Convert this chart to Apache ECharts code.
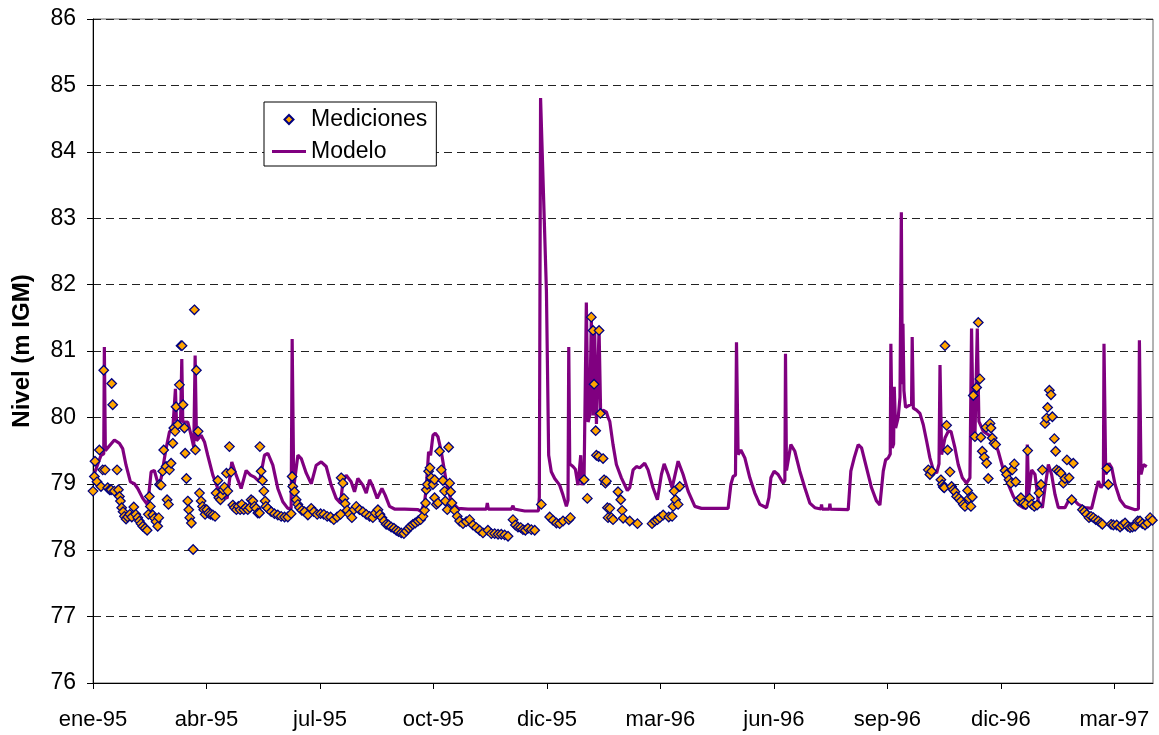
<!DOCTYPE html>
<html>
<head>
<meta charset="utf-8">
<script src="https://cdn.jsdelivr.net/npm/echarts@6/dist/echarts.min.js"></script>
<style>
  html, body { margin: 0; padding: 0; background: #fff; }
  #chart { width: 1159px; height: 735px; }
</style>
</head>
<body>
<div id="chart"></div>
<script>
// Days are counted from 1 January 1995 (day 0); levels are in m IGM.
const DAY0 = Date.UTC(1995, 0, 1);
const MONTHS = ['ene', 'feb', 'mar', 'abr', 'may', 'jun', 'jul', 'ago', 'sep', 'oct', 'nov', 'dic'];
const TICK_STEP_DAYS = 91;
const X_MAX_DAY = 850;
const Y_MIN = 76, Y_MAX = 86;

// Modelo: simulated level
const modelDay = [
  0, 6.45, 8.6, 9.1, 9.9, 17.15, 21.2, 23.8, 26.5, 30.0, 33.2, 35.9, 39.9, 43.9, 46.6, 49.2, 52.5, 54.6, 58.6, 61.3,
  64.0, 65.6, 66.1, 66.9, 70.2, 71.2, 72.0, 76.0, 78.7, 80.8, 81.9, 83.0, 86.7, 89.4, 92.0, 96.1, 100.1, 104.1, 107.6, 111.3,
  114.8, 118.8, 122.8, 126.3, 129.5, 133.5, 137.5, 140.2, 144.2, 148.2, 152.2, 156.2, 158.9, 159.7, 161.0, 164.3, 167.0, 171.0, 175.0, 179.0,
  183.0, 187.0, 191.0, 195.0, 198.5, 200.4, 203.0, 207.0, 209.7, 212.4, 216.4, 219.1, 221.8, 224.4, 227.9, 231.7, 234.3, 237.8, 241.8, 249.9,
  260.6, 263.2, 265.9, 267.2, 269.1, 270.7, 272.6, 274.5, 276.6, 279.3, 283.3, 287.3, 292.7, 300.7, 315.4, 316.2, 317.0, 335.5, 336.8, 337.6,
  346.2, 357.2, 357.9, 358.9, 363.6, 365.4, 367.5, 370.2, 374.2, 376.9, 379.6, 380.9, 381.5, 382.3, 384.9, 386.8, 388.9, 391.1, 392.2, 393.8,
  395.6, 397.0, 398.3, 399.6, 401.0, 402.3, 403.7, 405.8, 407.1, 409.0, 411.7, 413.0, 414.4, 417.0, 419.7, 423.7, 428.5, 430.4, 433.1, 435.8,
  438.4, 442.4, 445.1, 449.1, 452.6, 455.8, 458.0, 461.2, 464.4, 469.2, 473.2, 477.2, 482.6, 487.9, 509.3, 511.5, 513.3, 515.2, 516.0, 517.3,
  519.5, 522.7, 526.7, 530.7, 534.7, 540.1, 542.0, 543.6, 546.2, 549.4, 553.4, 554.8, 555.3, 556.1, 559.6, 562.8, 566.8, 570.8, 574.8, 578.8,
  583.7, 584.2, 584.7, 590.4, 590.9, 591.4, 605.6, 607.7, 610.4, 613.6, 616.3, 620.3, 624.3, 628.3, 631.0, 633.7, 635.6, 637.7, 639.3, 639.8,
  640.9, 642.0, 642.5, 643.6, 645.7, 647.1, 648.2, 649.0, 649.5, 650.3, 651.6, 652.4, 656.4, 656.9, 657.8, 660.4, 663.1, 665.8, 668.5, 671.1,
  673.8, 676.5, 678.4, 679.2, 680.5, 683.2, 685.8, 688.0, 691.2, 693.8, 697.1, 700.5, 703.2, 704.5, 705.9, 707.2, 709.1, 710.4, 713.9, 717.9,
  721.9, 725.9, 730.0, 734.0, 738.0, 742.0, 746.0, 748.4, 749.2, 750.3, 752.7, 755.4, 758.0, 761.3, 763.4, 766.1, 768.7, 771.4, 774.1, 779.4,
  782.1, 784.8, 787.5, 790.1, 795.5, 800.8, 803.5, 806.2, 808.3, 810.2, 810.7, 812.1, 814.7, 816.9, 819.6, 823.6, 827.6, 835.6, 838.3, 839.1,
  840.4, 842.3, 845.0
];
const modelLevel = [
  79.10, 79.43, 79.45, 81.06, 79.50, 79.66, 79.61, 79.53, 79.28, 79.03, 79.00, 78.93, 78.78, 78.68, 79.18, 79.20, 78.98, 79.08, 79.53, 79.78,
  79.83, 79.85, 80.43, 79.95, 79.93, 80.88, 79.93, 79.93, 79.73, 79.55, 80.93, 79.65, 79.73, 79.63, 79.43, 79.13, 78.93, 78.83, 78.78, 79.33,
  79.13, 78.93, 79.20, 79.13, 79.10, 79.03, 79.43, 79.46, 79.28, 78.93, 78.73, 78.63, 78.63, 81.18, 78.95, 79.43, 79.38, 79.16, 79.00, 79.28,
  79.33, 79.26, 78.98, 78.78, 78.71, 79.03, 79.13, 79.03, 78.88, 79.08, 78.98, 78.86, 79.06, 78.96, 78.78, 78.93, 78.83, 78.66, 78.62, 78.62,
  78.61, 78.58, 78.73, 78.93, 79.48, 79.43, 79.73, 79.76, 79.71, 79.48, 79.03, 78.73, 78.63, 78.62, 78.62, 78.71, 78.62, 78.62, 78.67, 78.62,
  78.59, 78.59, 78.80, 84.81, 81.90, 79.43, 79.18, 79.08, 78.98, 78.83, 78.66, 78.75, 81.06, 79.30, 79.26, 79.22, 78.98, 79.43, 78.98, 79.10,
  81.73, 79.93, 80.03, 81.48, 80.03, 81.28, 79.90, 81.33, 80.03, 80.11, 80.08, 80.00, 79.94, 79.59, 79.29, 79.09, 78.90, 78.94, 79.21, 79.26,
  79.24, 79.31, 79.21, 78.94, 78.76, 79.14, 79.30, 79.14, 78.94, 79.34, 79.14, 78.89, 78.66, 78.63, 78.63, 78.99, 79.11, 79.13, 81.13, 79.44,
  79.51, 79.39, 79.09, 78.86, 78.69, 78.64, 78.79, 79.09, 79.19, 79.14, 79.01, 79.05, 80.96, 79.20, 79.59, 79.49, 79.19, 78.94, 78.71, 78.64,
  78.62, 78.69, 78.62, 78.62, 78.70, 78.62, 78.61, 79.19, 79.39, 79.59, 79.54, 79.24, 78.94, 78.74, 78.68, 79.19, 79.36, 79.39, 79.45, 81.11,
  79.54, 79.60, 80.46, 79.84, 80.00, 80.30, 83.09, 80.50, 81.41, 80.40, 80.15, 80.14, 80.20, 81.21, 80.14, 80.11, 80.06, 79.89, 79.64, 79.39,
  79.21, 79.16, 79.30, 80.79, 79.44, 79.69, 79.79, 79.79, 79.54, 79.29, 79.09, 79.01, 79.09, 81.34, 79.74, 79.69, 81.34, 79.94, 79.79, 79.74,
  79.69, 79.49, 79.21, 78.99, 78.81, 78.69, 78.64, 78.63, 79.59, 78.85, 79.21, 79.14, 78.74, 78.64, 78.94, 79.29, 79.14, 78.84, 78.64, 78.64,
  78.74, 78.76, 78.74, 78.69, 78.64, 78.63, 78.84, 79.04, 78.94, 79.00, 81.11, 79.14, 79.31, 79.24, 78.99, 78.76, 78.66, 78.61, 78.62, 81.16,
  79.14, 79.29, 79.26
];

// Mediciones: observed level
const measDay = [
  0.0, 1.1, 1.6, 3.2, 5.1, 6.4, 7.8, 8.6, 9.7, 11.8, 13.4, 14.5, 15.0, 15.8, 17.1, 19.3, 20.4, 21.2, 22.0, 23.0,
  24.1, 25.2, 26.5, 27.8, 29.5, 31.1, 32.7, 34.3, 35.9, 37.2, 38.5, 39.9, 41.8, 43.4, 44.4, 45.2, 46.0, 47.9, 49.2, 50.6,
  51.9, 52.7, 53.3, 54.6, 55.9, 56.7, 58.6, 59.4, 60.5, 61.3, 62.6, 64.0, 64.8, 65.8, 66.6, 68.0, 69.3, 70.6, 71.4, 72.2,
  73.3, 73.9, 74.9, 76.0, 76.8, 77.6, 78.9, 80.3, 81.3, 82.1, 82.9, 84.3, 85.4, 86.7, 87.8, 88.8, 89.9, 91.2, 92.6, 94.2,
  96.1, 97.9, 98.7, 100.1, 100.9, 102.2, 103.3, 104.3, 105.4, 107.0, 108.1, 109.4, 110.8, 112.1, 113.4, 115.0, 116.6, 118.0, 119.3, 120.9,
  122.5, 124.1, 125.7, 126.8, 128.2, 129.5, 130.8, 132.2, 133.5, 133.8, 134.8, 135.9, 137.0, 138.0, 138.6, 140.2, 142.9, 145.5, 148.2, 150.9,
  153.6, 156.2, 158.9, 159.7, 160.2, 161.6, 162.9, 164.3, 165.6, 167.5, 169.6, 172.3, 175.0, 177.1, 179.8, 182.5, 185.1, 187.8, 190.5, 193.1,
  195.8, 198.5, 199.0, 200.4, 201.2, 202.2, 203.8, 205.7, 207.6, 209.2, 211.1, 213.7, 216.4, 219.1, 221.8, 224.4, 226.3, 228.5, 230.1, 231.7,
  233.3, 235.1, 237.0, 239.1, 241.3, 243.2, 245.0, 247.2, 249.3, 251.2, 253.1, 254.7, 256.5, 258.4, 260.6, 262.7, 264.6, 265.9, 266.7, 267.2,
  268.0, 269.1, 270.2, 271.1, 272.6, 273.9, 273.9, 275.3, 276.6, 277.9, 279.3, 280.6, 281.9, 282.5, 284.1, 285.2, 286.0, 286.8, 287.8, 290.0,
  292.1, 294.0, 296.7, 299.3, 302.0, 304.7, 307.4, 310.0, 312.7, 316.7, 319.4, 322.1, 324.8, 327.4, 330.1, 332.8, 336.8, 338.7, 340.8, 343.0,
  344.8, 346.7, 348.8, 351.5, 354.2, 359.5, 366.2, 368.9, 371.6, 374.2, 376.9, 381.5, 382.8, 393.8, 396.4, 399.6, 401.0, 401.8, 403.1, 403.7,
  405.5, 405.8, 406.9, 409.0, 409.8, 410.9, 411.7, 412.5, 413.0, 414.4, 415.7, 417.0, 421.0, 423.2, 424.3, 425.1, 430.4, 436.6, 448.3, 450.5,
  452.6, 454.5, 457.2, 461.7, 464.4, 465.2, 466.0, 467.1, 469.2, 470.5, 669.8, 671.1, 672.5, 679.9, 681.0, 681.8, 682.6, 683.2, 684.5, 685.3,
  687.2, 688.5, 689.8, 691.2, 692.5, 694.4, 696.0, 697.9, 699.2, 701.3, 702.4, 704.0, 705.1, 705.9, 707.2, 708.6, 709.9, 711.2, 712.0, 713.1,
  714.7, 716.6, 716.2, 717.9, 719.3, 720.1, 721.1, 722.5, 723.8, 731.3, 732.6, 734.5, 736.1, 737.2, 738.8, 739.9, 742.0, 744.1, 746.0, 747.9,
  749.5, 751.1, 752.7, 754.8, 757.0, 758.6, 760.2, 761.3, 763.4, 764.7, 765.5, 766.9, 768.2, 769.3, 770.9, 771.9, 772.8, 774.6, 776.2, 778.1,
  779.4, 781.0, 782.7, 784.8, 786.1, 793.4, 795.0, 796.8, 798.7, 800.3, 802.2, 804.1, 806.2, 808.3, 809.4, 813.1, 814.2, 816.4, 818.2, 820.9,
  823.6, 825.4, 827.6, 829.7, 831.6, 833.5, 835.6, 837.8, 839.6, 841.5, 843.6, 845.8, 847.7, 849.5
];
const measLevel = [
  78.89, 79.11, 79.34, 79.03, 79.51, 78.96, 79.21, 80.71, 79.21, 78.94, 78.91, 78.91, 80.51, 80.19, 78.89, 79.21, 78.91, 78.81, 78.74, 78.64,
  78.58, 78.51, 78.47, 78.50, 78.54, 78.50, 78.65, 78.54, 78.49, 78.44, 78.40, 78.36, 78.33, 78.30, 78.54, 78.81, 78.66, 78.53, 78.48, 78.43,
  78.36, 78.49, 78.99, 78.98, 79.19, 79.51, 79.26, 78.76, 78.69, 79.21, 79.31, 79.61, 79.84, 79.79, 80.16, 79.89, 80.49, 81.08, 81.08, 80.19,
  79.84, 79.46, 79.08, 78.74, 78.61, 78.49, 78.41, 78.01, 81.62, 79.51, 80.71, 79.79, 78.86, 78.74, 78.66, 78.61, 78.54, 78.61, 78.56, 78.54,
  78.53, 78.51, 78.86, 79.05, 78.79, 78.76, 78.83, 78.91, 78.95, 79.16, 78.89, 79.56, 79.18, 78.68, 78.64, 78.61, 78.66, 78.61, 78.69, 78.61,
  78.64, 78.61, 78.64, 78.76, 78.74, 78.66, 78.63, 78.56, 78.56, 79.56, 79.19, 79.05, 78.89, 78.74, 78.66, 78.63, 78.58, 78.55, 78.53, 78.51,
  78.50, 78.50, 78.55, 79.11, 78.96, 78.88, 78.76, 78.69, 78.64, 78.60, 78.58, 78.53, 78.63, 78.58, 78.54, 78.55, 78.54, 78.51, 78.50, 78.46,
  78.50, 78.54, 79.09, 79.01, 78.78, 78.70, 78.60, 78.54, 78.49, 78.61, 78.66, 78.61, 78.58, 78.54, 78.51, 78.49, 78.56, 78.61, 78.54, 78.49,
  78.44, 78.39, 78.38, 78.35, 78.33, 78.30, 78.28, 78.26, 78.25, 78.29, 78.33, 78.36, 78.39, 78.41, 78.44, 78.46, 78.51, 78.60, 78.71, 78.91,
  78.99, 79.19, 79.24, 79.09, 78.99, 78.79, 79.06, 78.69, 78.71, 79.49, 79.21, 79.05, 78.89, 78.74, 78.61, 79.55, 79.01, 78.88, 78.71, 78.60,
  78.51, 78.44, 78.40, 78.43, 78.46, 78.38, 78.34, 78.30, 78.26, 78.30, 78.25, 78.25, 78.24, 78.24, 78.23, 78.21, 78.46, 78.38, 78.35, 78.34,
  78.31, 78.30, 78.33, 78.31, 78.30, 78.69, 78.50, 78.45, 78.41, 78.40, 78.44, 78.46, 78.49, 79.06, 78.78, 81.51, 81.31, 80.50, 79.80, 79.43,
  79.41, 81.31, 80.06, 79.38, 79.06, 79.01, 79.04, 78.64, 78.49, 78.63, 78.49, 78.46, 78.88, 78.76, 78.60, 78.48, 78.44, 78.40, 78.40, 78.44,
  78.46, 78.49, 78.53, 78.50, 78.51, 78.66, 78.89, 78.76, 78.69, 78.96, 79.21, 79.14, 79.19, 79.06, 78.99, 78.95, 78.94, 81.08, 79.88, 79.51,
  79.18, 78.96, 78.91, 78.88, 78.81, 78.78, 78.74, 78.69, 78.66, 78.90, 78.78, 78.66, 78.80, 80.33, 79.71, 80.45, 81.43, 80.58, 79.70, 79.49,
  79.40, 79.31, 79.85, 79.08, 79.91, 79.84, 79.69, 79.61, 79.59, 79.20, 79.14, 79.06, 79.01, 79.21, 79.30, 79.03, 78.75, 78.79, 78.71, 78.69,
  79.50, 78.78, 78.69, 78.66, 78.68, 78.86, 78.99, 79.21, 79.91, 79.99, 80.15, 80.41, 80.34, 80.01, 79.68, 79.49, 79.21, 79.19, 79.16, 79.01,
  79.08, 79.36, 79.09, 78.76, 79.31, 78.61, 78.58, 78.54, 78.49, 78.51, 78.49, 78.46, 78.44, 78.41, 78.39, 79.23, 78.99, 78.39, 78.38, 78.38,
  78.35, 78.38, 78.41, 78.36, 78.34, 78.35, 78.36, 78.44, 78.44, 78.40, 78.38, 78.41, 78.49, 78.45
];

const FONT = "'Liberation Sans', Arial, Helvetica, sans-serif";

function dayLabel(v) {
  if (Math.round(v) % TICK_STEP_DAYS !== 0) return '';
  const d = new Date(DAY0 + Math.round(v) * 86400000);
  return MONTHS[d.getUTCMonth()] + '-' + String(d.getUTCFullYear()).slice(2);
}

const modelData = modelDay.map((d, i) => [d, modelLevel[i]]);
const measData = measDay.map((d, i) => [d, measLevel[i]]);

const chart = echarts.init(document.getElementById('chart'), null, { renderer: 'canvas' });
chart.setOption({
  animation: false,
  backgroundColor: '#ffffff',
  textStyle: { fontFamily: FONT, color: '#000' },
  grid: {
    left: 93, right: 6, top: 19, bottom: 52,
    show: true, borderColor: '#666', borderWidth: 1, backgroundColor: 'transparent'
  },
  legend: {
    orient: 'vertical',
    left: 264, top: 102,
    padding: [6, 9, 3, 7],
    itemGap: 9,
    itemWidth: 34, itemHeight: 14,
    borderColor: '#000', borderWidth: 1, backgroundColor: '#fff',
    textStyle: { fontFamily: FONT, fontSize: 23, color: '#000' },
    data: [
      { name: 'Mediciones', icon: 'path://M0,0M34,14M17,2.5L21.5,7L17,11.5L12.5,7Z' },
      { name: 'Modelo', icon: 'path://M0,0M34,14M0,5.5L34,5.5L34,8.5L0,8.5Z' }
    ]
  },
  xAxis: {
    type: 'value',
    min: 0, max: X_MAX_DAY, interval: TICK_STEP_DAYS,
    axisLine: { show: true, onZero: false, lineStyle: { color: '#000', width: 1 } },
    axisTick: { show: true, inside: false, length: 6, lineStyle: { color: '#000' } },
    splitLine: { show: false },
    axisLabel: {
      formatter: dayLabel, fontSize: 22, color: '#000', fontFamily: FONT, margin: 26,
      showMaxLabel: false
    }
  },
  yAxis: {
    type: 'value',
    min: Y_MIN, max: Y_MAX, interval: 1,
    name: 'Nivel (m IGM)',
    nameLocation: 'middle',
    nameRotate: 90,
    nameGap: 59,
    nameTextStyle: { fontFamily: FONT, fontSize: 24, fontWeight: 'bold', color: '#000' },
    axisLine: { show: true, lineStyle: { color: '#000', width: 1 } },
    axisTick: { show: true, inside: false, length: 6, lineStyle: { color: '#000' } },
    axisLabel: { fontSize: 23, color: '#000', fontFamily: FONT, margin: 17 },
    splitLine: { show: true, lineStyle: { color: '#222', width: 1, type: [8, 5] } }
  },
  series: [
    {
      name: 'Modelo',
      type: 'line',
      data: modelData,
      showSymbol: false,
      symbol: 'none',
      color: '#800080',
      lineStyle: { color: '#800080', width: 3.2 },
      z: 2
    },
    {
      name: 'Mediciones',
      type: 'scatter',
      data: measData,
      symbol: 'diamond',
      symbolSize: 9.5,
      color: '#FFA500',
      itemStyle: { color: '#FFA500', borderColor: '#000080', borderWidth: 1.3, opacity: 1 },
      z: 3
    }
  ]
});
</script>
</body>
</html>
